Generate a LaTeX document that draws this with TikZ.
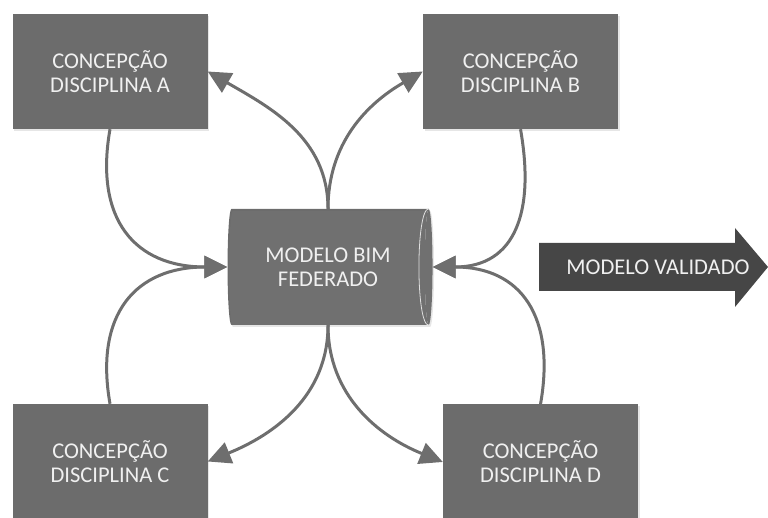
\documentclass[tikz,border=0pt]{standalone}
\usepackage{fontspec}
\setmainfont{Carlito}
\usetikzlibrary{arrows.meta,shapes.geometric,shadows}
\definecolor{boxgray}{RGB}{108,108,108}
\definecolor{darkgray}{RGB}{70,70,70}
\definecolor{linegray}{RGB}{110,110,110}
\definecolor{txtgray}{RGB}{240,240,240}
\tikzset{
  disc/.style={rectangle, fill=boxgray, minimum width=195pt, minimum height=115pt, inner sep=0pt,
    align=center, text=txtgray, font=\fontsize{22.5}{24}\selectfont,
    drop shadow={opacity=.2, shadow xshift=1.5pt, shadow yshift=-2pt}},
  conn/.style={->, draw=linegray, line width=3pt},
}
\begin{document}
\begin{tikzpicture}[x=1pt, y=1pt, >={Triangle[length=23pt,width=22pt]}]
	\useasboundingbox (0,0) rectangle (768,518);
	% caixas das disciplinas
	\node[disc] (A) at (110,446.5) {CONCEPÇÃO\\DISCIPLINA A};
	\node[disc] (B) at (520.5,446.5) {CONCEPÇÃO\\DISCIPLINA B};
	\node[disc] (C) at (110,56.5) {CONCEPÇÃO\\DISCIPLINA C};
	\node[disc] (D) at (540.5,56) {CONCEPÇÃO\\DISCIPLINA D};
	% modelo federado
	\node[cylinder, shape border rotate=0, aspect=0.2, minimum width=116pt, minimum height=205pt,
		cylinder uses custom fill, cylinder body fill=boxgray, cylinder end fill=boxgray, inner sep=0pt,
		align=center, text=txtgray, font=\fontsize{22.5}{24}\selectfont,
		drop shadow={opacity=.2, shadow xshift=1.5pt, shadow yshift=-2pt}] (fed) at (328,251) {MODELO BIM\\FEDERADO};
	\draw[white!75!gray, line width=.8pt] (fed.before top) .. controls +(-13pt,0) and +(-13pt,0) .. (fed.after top);
	% saida
	\fill[darkgray] (539,227) -- (735,227) -- (735,211) -- (768,251) -- (735,290) -- (735,275) -- (539,275) -- cycle;
	\node[text=txtgray, font=\fontsize{22.5}{24}\selectfont] (val) at (658,251) {MODELO VALIDADO};
	% ligacoes
	\draw[conn] (fed.north) to[out=90, in=-30] (A.east);
	\draw[conn] (fed.north) to[out=90, in=210] (B.west);
	\draw[conn] (fed.south) to[out=-90, in=22] (C.east);
	\draw[conn] (fed.south) to[out=-90, in=158] (D.west);
	\draw[conn] (A.south) to[out=-100, in=180, looseness=1.3] (fed.west);
	\draw[conn] (C.north) to[out=100, in=180, looseness=1.3] (fed.west);
	\draw[conn] (B.south) to[out=-80, in=0, looseness=1.3] (fed.east);
	\draw[conn] (D.north) to[out=80, in=0, looseness=1.3] (fed.east);
\end{tikzpicture}
\end{document}
